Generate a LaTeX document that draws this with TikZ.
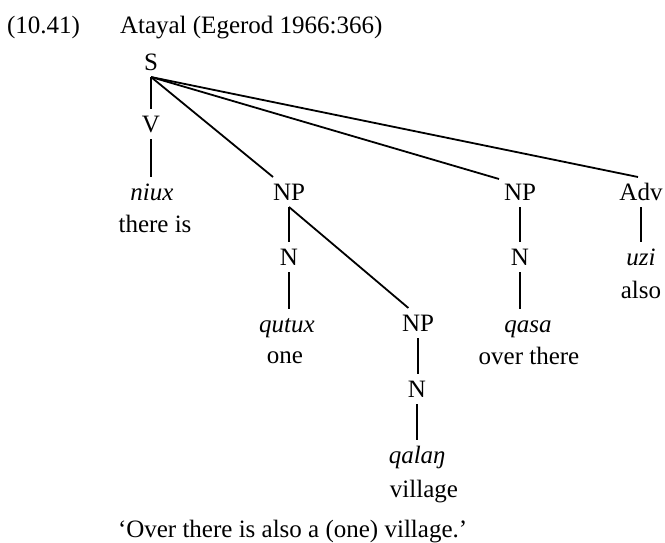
\documentclass[tikz,border=0pt]{standalone}
\usepackage{fontspec}
\setmainfont{Liberation Serif}
\usetikzlibrary{calc}
\begin{document}
\begin{tikzpicture}[x=0.5pt,y=-0.5pt,
  every node/.style={inner sep=0pt, outer sep=0pt, anchor=base, font=\fontsize{12.5}{15}\selectfont},
  tn/.style={text height=11.5pt, text depth=3.5pt},
  br/.style={line width=0.9pt, line cap=butt}]
\useasboundingbox (0,0) rectangle (665,542);
% heading
\node[anchor=base west] (num) at (7,33) {(10.41)};
\node[anchor=base west] (src) at (120,33) {Atayal (Egerod 1966:366)};
% tree nodes
\node[tn] (S) at (151,70) {S};
\node[tn] (V) at (151,132) {V};
\node[tn] (niux) at (152,200) {\itshape niux};
\node (g1) at (155,232) {there is};
\node[tn] (NPa) at (289,200) {NP};
\node[tn] (Na) at (289,265) {N};
\node[tn] (qutux) at (287,332) {\itshape qutux};
\node (g2) at (285,363) {one};
\node[tn] (NPc) at (418,331) {NP};
\node[tn] (Nc) at (417,397) {N};
\node[tn] (qalan) at (417,463) {\itshape qalaŋ};
\node (g3) at (424,497) {village};
\node[tn] (NPb) at (520,200) {NP};
\node[tn] (Nb) at (520,265) {N};
\node[tn] (qasa) at (528,332) {\itshape qasa};
\node (g4) at (529,364) {over there};
\node[tn] (Adv) at (641,200) {Adv};
\node[tn] (uzi) at (641,265) {\itshape uzi};
\node (g5) at (641,298) {also};
% translation
\node[anchor=base west] (tr) at (118,537) {‘Over there is also a (one) village.’};
% branches
\draw[br] (S.south) -- (V.north);
\draw[br] (V.south) -- (V.south |- niux.north);
\draw[br] (S.south) -- (NPa.north west);
\draw[br] (S.south) -- ($(NPb.north west)+(-5,2)$);
\draw[br] (S.south) -- ($(Adv.north)+(-3,0)$);
\draw[br] (NPa.south) -- (NPa.south |- Na.north);
\draw[br] (Na.south) -- (Na.south |- qutux.north);
\draw[br] (NPa.south) -- ($(NPc.north west)!0.4!(NPc.north)$);
\draw[br] (NPc.south) -- (NPc.south |- Nc.north);
\draw[br] (Nc.south) -- (Nc.south |- qalan.north);
\draw[br] (NPb.south) -- (NPb.south |- Nb.north);
\draw[br] (Nb.south) -- (Nb.south |- qasa.north);
\draw[br] (Adv.south) -- (Adv.south |- uzi.north);
\end{tikzpicture}
\end{document}
